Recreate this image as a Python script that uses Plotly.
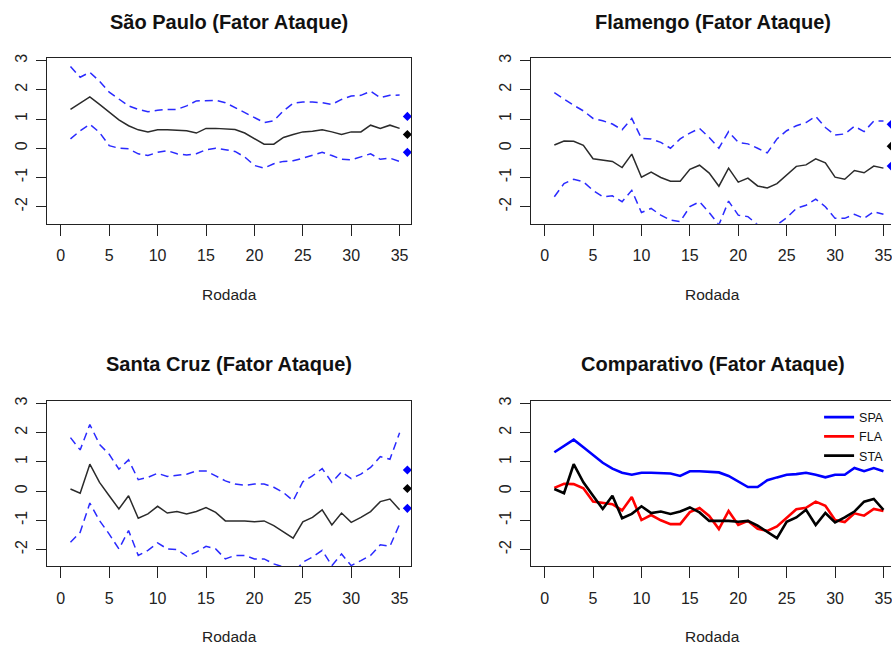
import plotly.graph_objects as go

# ---------------- data ----------------
rodada = list(range(1, 36))

sp_media = [1.33, 1.53, 1.76, 1.50, 1.22, 0.97, 0.77, 0.63, 0.56, 0.63,
            0.63, 0.61, 0.60, 0.52, 0.68, 0.68, 0.67, 0.64, 0.52, 0.34,
            0.14, 0.14, 0.37, 0.47, 0.56, 0.58, 0.63, 0.56, 0.47, 0.56,
            0.56, 0.79, 0.68, 0.79, 0.68]
sp_sup = [2.80, 2.43, 2.60, 2.29, 1.92, 1.67, 1.45, 1.33, 1.25, 1.30,
          1.33, 1.33, 1.45, 1.62, 1.62, 1.64, 1.56, 1.39, 1.22, 1.05,
          0.88, 0.94, 1.28, 1.54, 1.58, 1.58, 1.56, 1.50, 1.67, 1.79,
          1.81, 1.95, 1.73, 1.81, 1.82]
sp_inf = [0.32, 0.60, 0.82, 0.54, 0.09, 0.00, -0.02, -0.19, -0.25, -0.14,
          -0.08, -0.19, -0.23, -0.19, -0.05, 0.00, -0.05, -0.11, -0.30, -0.59,
          -0.68, -0.53, -0.45, -0.43, -0.34, -0.25, -0.14, -0.25, -0.38, -0.40,
          -0.30, -0.19, -0.38, -0.34, -0.45]

fla_media = [0.11, 0.25, 0.24, 0.10, -0.36, -0.40, -0.45, -0.66, -0.20, -0.99,
             -0.82, -1.00, -1.13, -1.13, -0.72, -0.58, -0.85, -1.30, -0.68, -1.16,
             -1.02, -1.29, -1.36, -1.21, -0.93, -0.62, -0.57, -0.36, -0.50, -0.99,
             -1.06, -0.76, -0.84, -0.61, -0.68]
fla_sup = [1.90, 1.67, 1.47, 1.28, 1.02, 0.94, 0.83, 0.63, 1.02, 0.34,
           0.32, 0.20, 0.00, 0.32, 0.52, 0.68, 0.37, 0.00, 0.57, 0.20,
           0.15, 0.00, -0.16, 0.32, 0.60, 0.77, 0.88, 1.09, 0.71, 0.45,
           0.49, 0.75, 0.57, 0.93, 0.93]
fla_inf = [-1.66, -1.21, -1.06, -1.15, -1.44, -1.66, -1.63, -1.83, -1.44, -2.20,
           -2.06, -2.29, -2.46, -2.51, -2.00, -1.83, -2.20, -2.62, -1.81, -2.29,
           -2.34, -2.62, -2.74, -2.62, -2.38, -2.06, -1.95, -1.74, -2.00, -2.40,
           -2.40, -2.26, -2.40, -2.17, -2.26]

sta_media = [0.07, -0.07, 0.92, 0.30, -0.16, -0.61, -0.16, -0.93, -0.78, -0.52,
             -0.75, -0.70, -0.78, -0.70, -0.56, -0.73, -1.02, -1.02, -1.02, -1.05,
             -1.02, -1.18, -1.39, -1.61, -1.05, -0.90, -0.64, -1.16, -0.75, -1.07,
             -0.90, -0.70, -0.36, -0.27, -0.64]
sta_sup = [1.83, 1.41, 2.28, 1.60, 1.26, 0.75, 1.07, 0.39, 0.47, 0.61,
           0.50, 0.55, 0.58, 0.69, 0.69, 0.52, 0.35, 0.24, 0.20, 0.24,
           0.24, 0.13, -0.05, -0.33, 0.32, 0.52, 0.77, 0.30, 0.66, 0.43,
           0.58, 0.81, 1.18, 1.09, 2.00]
sta_inf = [-1.75, -1.41, -0.41, -1.01, -1.47, -1.98, -1.35, -2.20, -2.03, -1.77,
           -1.98, -2.00, -2.23, -2.09, -1.89, -1.98, -2.32, -2.20, -2.20, -2.32,
           -2.32, -2.49, -2.60, -2.83, -2.43, -2.26, -2.03, -2.55, -2.15, -2.55,
           -2.38, -2.20, -1.84, -1.89, -1.13]

# final predicted values (upper, mean, lower) drawn as diamonds
x_final = 35.8
sp_final = [1.09, 0.47, -0.14]
fla_final = [0.82, 0.07, -0.61]
sta_final = [0.72, 0.09, -0.59]

titles = ["São Paulo (Fator Ataque)", "Flamengo (Fator Ataque)",
          "Santa Cruz (Fator Ataque)", "Comparativo (Fator Ataque)"]
legend_names = ["SPA", "FLA", "STA"]
x_ticks = [0, 5, 10, 15, 20, 25, 30, 35]
y_ticks = [-2, -1, 0, 1, 2, 3]
y_tick_text = ["-2", "-1", "0", "1", "2", "3"]
x_label = "Rodada"

# ---------------- layout geometry ----------------
W, H = 892, 645
def px_x(v):
    return v / W
def px_y(v):
    return 1 - v / H

panels = {
    1: dict(x=(47.3, 411.7), y=(54, 221), xr=[-1.4, 36.2]),
    2: dict(x=(531.7, 892), y=(54, 221), xr=[-1.4, 35.78]),
    3: dict(x=(47.3, 411.7), y=(399, 566), xr=[-1.4, 36.2]),
    4: dict(x=(531.7, 892), y=(399, 566), xr=[-1.4, 35.78]),
}
y_range = [-2.58, 3.10]

FAM = "Liberation Sans, Arial"
TICK_FONT = dict(family=FAM, size=16, color="#222222")
TITLE_FONT = dict(family=FAM, size=20, color="#111111")

fig = go.Figure()

DASH = "8px,5px"
BLUE_D = "#2a2aff"
MEAN_C = "#2b2b2b"

def band_panel(idx, media, sup, inf, final):
    xa = "x" if idx == 1 else f"x{idx}"
    ya = "y" if idx == 1 else f"y{idx}"
    fig.add_trace(go.Scatter(x=rodada, y=sup, mode="lines", xaxis=xa, yaxis=ya,
                             line=dict(color=BLUE_D, width=1.5, dash=DASH), showlegend=False))
    fig.add_trace(go.Scatter(x=rodada, y=inf, mode="lines", xaxis=xa, yaxis=ya,
                             line=dict(color=BLUE_D, width=1.5, dash=DASH), showlegend=False))
    fig.add_trace(go.Scatter(x=rodada, y=media, mode="lines", xaxis=xa, yaxis=ya,
                             line=dict(color=MEAN_C, width=1.5), showlegend=False))
    fig.add_trace(go.Scatter(x=[x_final] * 3, y=final, mode="markers", xaxis=xa, yaxis=ya,
                             marker=dict(symbol="diamond", size=7,
                                         color=["blue", "black", "blue"]),
                             showlegend=False))

band_panel(1, sp_media, sp_sup, sp_inf, sp_final)
band_panel(2, fla_media, fla_sup, fla_inf, fla_final)
band_panel(3, sta_media, sta_sup, sta_inf, sta_final)

for name, serie, col in zip(legend_names, [sp_media, fla_media, sta_media],
                            ["#0000ff", "#ff0000", "#000000"]):
    fig.add_trace(go.Scatter(x=rodada, y=serie, mode="lines", xaxis="x4", yaxis="y4",
                             name=name, line=dict(color=col, width=2.6), showlegend=True))

layout = {}
annotations = []
for idx, p in panels.items():
    xk = "xaxis" if idx == 1 else f"xaxis{idx}"
    yk = "yaxis" if idx == 1 else f"yaxis{idx}"
    ya_ref = "y" if idx == 1 else f"y{idx}"
    xa_ref = "x" if idx == 1 else f"x{idx}"
    right_clipped = idx in (2, 4)
    layout[xk] = dict(domain=[px_x(p["x"][0]), px_x(p["x"][1])], range=p["xr"],
                      anchor=ya_ref, tickmode="array", tickvals=x_ticks,
                      ticks="outside", ticklen=11, tickcolor="#222", tickwidth=1,
                      showline=True, linecolor="#222", linewidth=1, mirror=True,
                      showgrid=False, zeroline=False, tickfont=TICK_FONT,
                      ticklabelstandoff=6, ticklabeloverflow="allow")
    layout[yk] = dict(domain=[px_y(p["y"][1]), px_y(p["y"][0])], range=y_range,
                      anchor=xa_ref, tickmode="array", tickvals=y_ticks,
                      ticktext=y_tick_text,
                      ticks="outside", ticklen=10, tickcolor="#222", tickwidth=1,
                      showline=True, linecolor="#222", linewidth=1,
                      mirror=False if right_clipped else True,
                      showgrid=False, zeroline=False, tickfont=TICK_FONT,
                      tickangle=-90, ticklabelstandoff=3)
    right_px = 895.7 if right_clipped else p["x"][1]
    cx = (p["x"][0] + right_px) / 2
    title_y = 18 if idx in (1, 2) else 362
    lab_y = 292 if idx in (1, 2) else 636
    annotations.append(dict(text="<b>" + titles[idx - 1] + "</b>", x=px_x(cx), y=px_y(title_y),
                            xref="paper", yref="paper", showarrow=False,
                            xanchor="center", yanchor="middle", font=TITLE_FONT))
    annotations.append(dict(text=x_label, x=px_x(cx), y=px_y(lab_y),
                            xref="paper", yref="paper", showarrow=False,
                            xanchor="center", yanchor="middle",
                            font=dict(family=FAM, size=15.5, color="#222")))

fig.update_layout(
    width=W, height=H,
    margin=dict(l=0, r=0, t=0, b=0),
    paper_bgcolor="white", plot_bgcolor="white",
    annotations=annotations,
    legend=dict(x=px_x(820), y=px_y(401), xanchor="left", yanchor="top",
                bgcolor="rgba(0,0,0,0)", borderwidth=0,
                font=dict(family=FAM, size=12.5, color="#111"),
                tracegroupgap=0, itemwidth=30),
    **layout,
)

fig.write_html("out.html")
